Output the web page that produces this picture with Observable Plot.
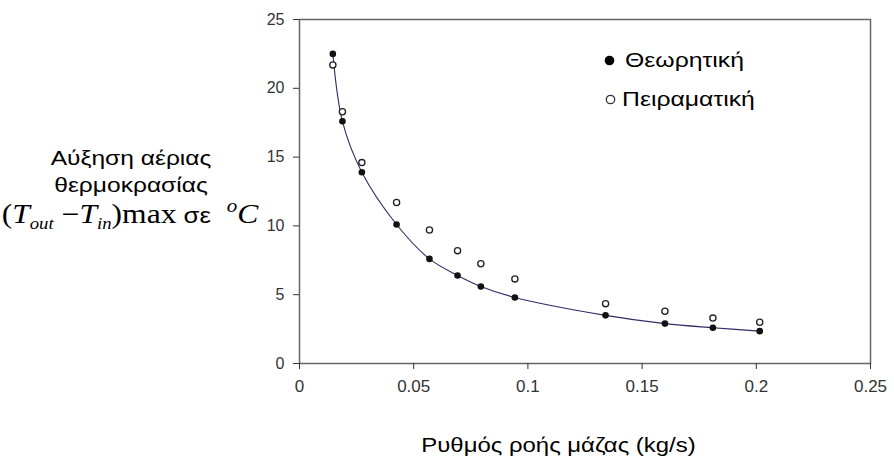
<!DOCTYPE html>
<html>
<head>
<meta charset="utf-8">
<script src="https://cdn.jsdelivr.net/npm/d3@7"></script>
<script src="https://cdn.jsdelivr.net/npm/@observablehq/plot@0.6"></script>
<style>
  html, body { margin: 0; padding: 0; background: #fff; }
  #chart { position: relative; width: 894px; height: 458px; }
</style>
</head>
<body>
<div id="chart"></div>
<script>
// Mass flow rate (kg/s)
const flow = [0.0146, 0.0188, 0.0273, 0.0425, 0.0569, 0.0692, 0.0794, 0.0943, 0.134, 0.160, 0.181, 0.2015];
// Theoretical temperature rise (°C)
const theoretical = [22.5, 17.6, 13.9, 10.1, 7.6, 6.4, 5.6, 4.8, 3.5, 2.9, 2.6, 2.35];
// Experimental temperature rise (°C)
const experimental = [21.7, 18.3, 14.6, 11.7, 9.7, 8.2, 7.25, 6.15, 4.35, 3.8, 3.3, 3.0];

const seriesNames = ["Θεωρητική", "Πειραματική"];
const xTicks = [0, 0.05, 0.1, 0.15, 0.2, 0.25];
const yTicks = [0, 5, 10, 15, 20, 25];
const xTitle = "Ρυθμός ροής μάζας (kg/s)";
const yTitleLines = ["Αύξηση αέριας", "θερμοκρασίας"];

const theo = flow.map((x, i) => ({x, y: theoretical[i]}));
const expe = flow.map((x, i) => ({x, y: experimental[i]}));

const chart = Plot.plot({
  width: 894,
  height: 458,
  marginLeft: 299,
  marginRight: 24,
  marginTop: 19,
  marginBottom: 95,
  style: {fontFamily: "'Liberation Sans', Arial, sans-serif", background: "#fff", overflow: "visible"},
  x: {domain: [0, 0.25]},
  y: {domain: [0, 25]},
  marks: [
    Plot.frame({stroke: "#666", strokeWidth: 1.5}),
    Plot.axisX(xTicks, {tickSize: 6, tickPadding: 10, fontSize: 17, color: "#333", tickFormat: d => String(d), label: null}),
    Plot.axisY(yTicks, {tickSize: 6, tickPadding: 9, fontSize: 16, color: "#333", tickFormat: d => String(d), label: null}),
    Plot.line(theo, {x: "x", y: "y", curve: "catmull-rom", stroke: "#2e2e66", strokeWidth: 1.1}),
    Plot.dot(expe, {x: "x", y: "y", r: 3.1, stroke: "#222", strokeWidth: 1.3, fill: "#fff"}),
    Plot.dot(theo, {x: "x", y: "y", r: 3.3, fill: "#111"}),
    // legend symbols
    Plot.dot([seriesNames[0]], {frameAnchor: "top-left", dx: 310, dy: 41, r: 4.8, fill: "#000"}),
    Plot.dot([seriesNames[1]], {frameAnchor: "top-left", dx: 311, dy: 80, r: 4.2, fill: "#fff", stroke: "#333", strokeWidth: 1.3})
  ]
});

document.getElementById("chart").appendChild(chart);

const svg = d3.select(chart);
const sans = "'Liberation Sans', Arial, sans-serif";
const serif = "'Liberation Serif', 'Times New Roman', serif";

// helper: horizontally stretched text anchored at (x, y)
function stretched(parent, x, y, sx, anchor) {
  return parent.append("text")
    .attr("transform", `translate(${x},${y}) scale(${sx},1)`)
    .attr("text-anchor", anchor)
    .attr("fill", "#000");
}

// legend labels
stretched(svg, 625, 67, 1.18, "start").attr("font-family", sans).attr("font-size", 21).text(seriesNames[0]);
stretched(svg, 622, 106, 1.18, "start").attr("font-family", sans).attr("font-size", 21).text(seriesNames[1]);

// x title
stretched(svg, 558.5, 452, 1.14, "middle").attr("font-family", sans).attr("font-size", 21).text(xTitle);

// y title (three lines)
yTitleLines.forEach((t, i) => {
  stretched(svg, 131, 165 + i * 27, 1.17, "middle").attr("font-family", sans).attr("font-size", 21).text(t);
});
const t3 = stretched(svg, 130, 223, 1.17, "middle")
  .attr("font-family", serif)
  .attr("font-size", 27)
  .style("white-space", "pre");
const parts = [
  {s: "(", it: false},
  {s: "T", it: true},
  {s: "out", it: true, fs: 16, dy: 6},
  {s: " −", it: false, dy: -6},
  {s: "T", it: true},
  {s: "in", it: true, fs: 16, dy: 6},
  {s: ")", it: false, dy: -6},
  {s: "max", it: false},
  {s: " σε", it: false, fs: 22, sans: true},
  {s: "  ", it: false},
  {s: "o", it: true, fs: 18, dy: -11},
  {s: "C", it: true, dy: 11}
];
parts.forEach(p => {
  const ts = t3.append("tspan").text(p.s);
  if (p.it) ts.attr("font-style", "italic");
  if (p.fs) ts.attr("font-size", p.fs);
  if (p.dy) ts.attr("dy", p.dy);
  if (p.sans) ts.attr("font-family", sans);
});
</script>
</body>
</html>
